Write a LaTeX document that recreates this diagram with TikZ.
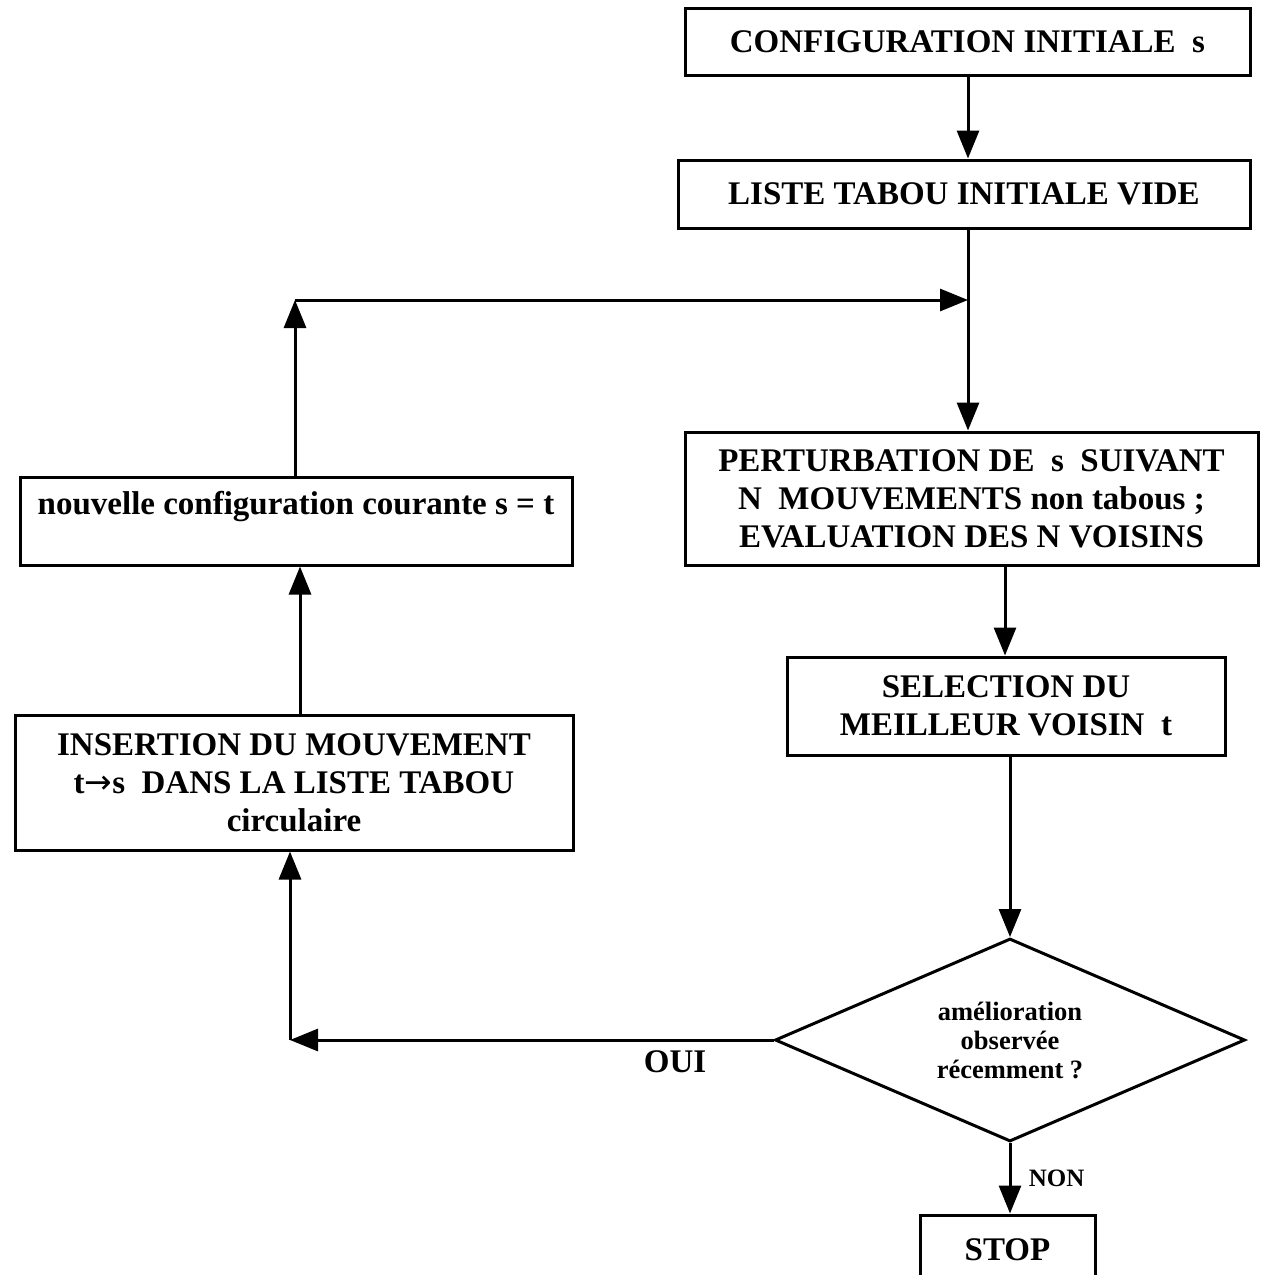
\documentclass[tikz,border=0pt]{standalone}
\usepackage{fontspec}
\setmainfont{Liberation Serif}
\newfontfamily\arrowfont{DejaVu Sans}
\usetikzlibrary{shapes.geometric,arrows.meta}
\begin{document}
\begin{tikzpicture}[x=1pt,y=-1pt,
  box/.style={draw,line width=3pt,inner sep=0pt,align=center,font=\fontsize{33}{38}\selectfont\bfseries},
  decision/.style={draw,diamond,line width=3pt,inner sep=0pt,aspect=2.3,align=center,font=\fontsize{26.5}{29}\selectfont\bfseries},
  arr/.style={line width=3pt,-{Triangle[length=28pt,width=22pt]}},
  conn/.style={line width=3pt},
  lbl/.style={font=\fontsize{33}{38}\selectfont\bfseries},
  smalllbl/.style={font=\fontsize{25}{29}\selectfont\bfseries}]
\useasboundingbox (0,0) rectangle (1261,1275);
\clip (0,0) rectangle (1261,1275);
\fill[white] (0,0) rectangle (1261,1275);

\node[box,minimum width=565pt,minimum height=67pt] (config) at (967.5,41.5) {CONFIGURATION INITIALE\ \ s};
\node[box,minimum width=572pt,minimum height=68pt] (liste) at (964,194) {LISTE TABOU INITIALE VIDE};
\node[box,minimum width=573pt,minimum height=133pt] (pert) at (971.5,498.5) {PERTURBATION DE\ \ s\ \ SUIVANT\\N\ \ MOUVEMENTS non tabous ;\\EVALUATION DES N VOISINS};
\node[box,minimum width=438pt,minimum height=98pt] (sel) at (1006,706) {SELECTION DU\\MEILLEUR VOISIN\ \ t};
\node[decision,minimum width=470pt,minimum height=203pt] (dia) at (1010,1040) {amélioration\\observée\\récemment ?};
\node[box,minimum width=175pt,minimum height=70pt] (stop) at (1007.5,1250) {STOP};
\node[box,minimum width=552pt,minimum height=88pt] (nouv) at (296,521) {};
\node[lbl] (nouvtxt) at (296,507) {nouvelle configuration courante s = t};
\node[box,minimum width=558pt,minimum height=135pt] (ins) at (294,782.5) {INSERTION DU MOUVEMENT\\t{\arrowfont\mdseries →}s\ \ DANS LA LISTE TABOU\\circulaire};
\node[lbl] (oui) at (675,1062) {OUI};

\coordinate (j) at (968,300);
\coordinate (c1) at (295,300);
\coordinate (c2) at (290,1040);
\coordinate (c3) at (300,640);
\coordinate (c4) at (1005,610);

\draw[arr] (config.south -| j) -- (liste.north -| j);
\draw[conn] (liste.south -| j) -- (j);
\draw[arr] (j) -- (pert.north -| j);
\draw[arr] (nouv.north -| c1) -- (c1);
\draw[arr] (c1) -- (j);
\draw[arr] (pert.south -| c4) -- (sel.north -| c4);
\draw[arr] (sel.south -| dia.north) -- (dia.north);
\draw[arr] (dia.west) -- (c2);
\draw[arr] (c2) -- (ins.south -| c2);
\draw[arr] (ins.north -| c3) -- (nouv.south -| c3);
\draw[arr] (dia.south) -- (stop.north -| dia.south) node[midway,right=14pt,smalllbl] (non) {NON};
\end{tikzpicture}
\end{document}
